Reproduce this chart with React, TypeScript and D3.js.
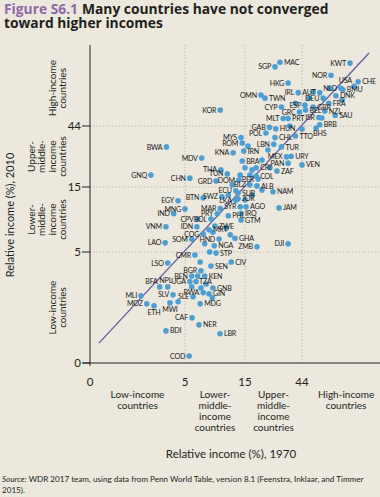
import React from "react";
import * as d3 from "d3";

// ---------- DATA ----------
const countryCodes = [
  "SGP","MAC","KWT","NOR","HKG","USA","CHE","NLD","BMU","AUT","IRL","DNK","DEU","OMN","TWN","FRA",
  "CYP","ESP","GBR","NZL","GRC","BEL","ISR","SAU","MLT","PRT","GAB","HUN","BRB","BHS","POL","CHL",
  "TTO","LBN","TUR","URY","MEX","PAN","VEN","IRN","BRA","MYS","ROM","KNA","MDV","BWA","KOR","THA",
  "TUN","DOM","GRD","CHN","GNQ","ECU","BTN","SWZ","LKA","JOR","SUR","BLZ","PER","CRI","COL","ZAF",
  "ALB","NAM","AGO","JAM","MAR","SYR","PHL","IRQ","GTM","PRY","BOL","CPV","EGY","MNG","IND","IDN",
  "VNM","COG","SOM","LAO","CMR","HND","GHA","ZWE","MRT","NGA","ZMB","DJI","STP","SEN","CIV","BGR",
  "BEN","KEN","UGA","NPL","BFA","MLI","SLV","TZA","GNB","GIN","RWA","SLE","MDG","MOZ","ETH","MWI",
  "CAF","BDI","NER","LBR","COD","LSO"
];
const income1970 = [
  26.6,29.2,106,75,34,114,123,90,93,61,41,82,65,20.4,22,72,
  30,46.5,54,67,42,47,60,81,31,34,24,27,61,57,22.4,26.6,
  39,26,30,36,33,34,44,14.7,14.3,14,14.3,12.2,6.9,3.3,9.7,9.8,
  11,13.5,9,5.5,2.24,12.8,7.1,10,12.8,13.3,13.3,16.5,19.3,18.6,18.6,27.6,
  18.9,25.6,15.3,28.7,9.7,13.8,11.2,14,14,9.2,8.2,6.4,4.3,5,3.9,6.3,
  3.26,7.1,5.7,3.2,6.07,9.5,12.6,8.8,7.9,8.7,18.9,34,9,8.2,11.8,6.8,
  5.7,7.3,5.5,3.4,2.8,1.7,3.84,6.8,8.5,7.9,7.1,5.85,6.7,2.0,2.43,3.58,
  5.74,3.26,6.56,9.66,5.42,3.4
];
const income2010 = [
  121,131,129,105,92,87,94,84,82,78,78,74,71,75,71,65,
  61,63,61,57,56,58,51,53,50,50,43,42,45,42.5,39,36,
  37,32,30.6,26,25.7,23,22.3,28.5,23.9,36,32.8,27.6,25.2,30.6,58,20.4,
  19,17,16.7,17.6,18.6,14.1,12.6,12.8,12.1,12.4,13.6,15.6,17.3,21.2,18.3,20,
  15.3,13.9,10.9,10.7,10.6,10.9,9.4,9.8,8.75,9.7,8.9,8.9,12,10.5,9.7,7.8,
  7.8,6.9,6.3,5.9,4.73,6.3,6.4,7.9,7.4,5.6,5.5,5.8,4.9,3.84,4.15,3.5,
  3.15,3.15,2.8,2.5,2.5,2.04,2.09,2.44,2.44,2.14,2.2,2.0,1.68,1.68,1.6,1.72,
  1.14,0.73,0.91,0.65,0.13,4.07
];
const unlabeled1970 = [54,73.5,92,50,63.5,35,44,15.9,17.2,20.8,23.3,24.2,15,16.5,20.8,17.2,15,12,11.2,13.8,10.8,11.6,8.5,7.3,8,6.7,6.2,7.5,5.7,8.4,4.3,6.4,39];
const unlabeled2010 = [79,84,69,71,50.5,44,41.7,31,20.4,24.3,29,21.2,21.2,18.6,14.3,13.2,12.2,15.6,13.2,18.6,7.6,6.8,7.1,5.8,5,4.15,2.8,2.66,2.5,1.95,1.77,3.15,65];

const tickValues = [0, 5, 15, 44];
const tickLabels = ["0", "5", "15", "44"];
const parity1970 = [0.2, 150];
const parity2010 = [0.41, 153];

const xCategories = [
  { lines: ["Low-income", "countries"], lo: 0, hi: 5 },
  { lines: ["Lower-", "middle-", "income", "countries"], lo: 5, hi: 15 },
  { lines: ["Upper-", "middle-", "income", "countries"], lo: 15, hi: 44 },
  { lines: ["High-income", "countries"], lo: 44, hi: 220 },
];
const yCategories = [
  { lines: ["Low-income", "countries"], lo: 0, hi: 5 },
  { lines: ["Lower-", "middle-", "income", "countries"], lo: 5, hi: 15 },
  { lines: ["Upper-", "middle-", "income", "countries"], lo: 15, hi: 44 },
  { lines: ["High-income", "countries"], lo: 44, hi: 160 },
];

// label placement (l = left, r = right, t = above, b = below ...)
const labelSide: Record<string, string> = {
  MAC: "r", CHE: "r", BMU: "r", DNK: "r", TWN: "r", FRA: "r", GBR: "r", NZL: "r", BEL: "r",
  SAU: "r", PRT: "r", HUN: "r", BRB: "r", BHS: "br", CHL: "r", TTO: "r", TUR: "r", URY: "r",
  VEN: "r", IRN: "r", BRA: "r", CRI: "r", COL: "r", ZAF: "r", ALB: "r", NAM: "r", AGO: "r",
  JAM: "r", PHL: "r", IRQ: "r", GTM: "r", GHA: "r", ZWE: "r", MRT: "r", NGA: "r", STP: "r",
  SEN: "r", CIV: "r", KEN: "r", GNB: "r", GIN: "r", MDG: "r", BDI: "r", NER: "r", LBR: "r",
  JOR: "r", SUR: "r", USA: "tl", NPL: "t", BFA: "tl", TZA: "tr", ETH: "b", MWI: "b",
};

const FONT = "Lato, 'Open Sans', 'DejaVu Sans', sans-serif";
const TITLE_FONT = "'Open Sans', Lato, sans-serif";
const INK = "#231f20";
const BG = "#ece8dd";
const DOT = "#4d9fd3";
const GRID = "#b5b0a4";

export default function App() {
  const W = 380, H = 497;
  const sym = d3.scaleSymlog().constant(1.2).domain([0, 44]).range([0, Math.log1p(44 / 1.2)]);
  const xs = d3.scaleLinear().domain(tickValues.map((v) => sym(v))).range([90, 185, 245, 302]);
  const ys = d3.scaleLinear().domain(tickValues.map((v) => sym(v))).range([363, 252, 187, 126]);
  const X = (v: number) => xs(sym(v));
  const Y = (v: number) => ys(sym(v));

  const plotTop = 45, plotRight = W;
  const line = d3.line<number>().x((_, i) => X(parity1970[i])).y((_, i) => Y(parity2010[i]));

  const labelProps = (code: string, px: number, py: number) => {
    const s = labelSide[code] || "l";
    switch (s) {
      case "r": return { x: px + 4, y: py + 2.6, anchor: "start" };
      case "t": return { x: px - 2, y: py - 4, anchor: "middle" };
      case "tl": return { x: px - 2, y: py - 3, anchor: "end" };
      case "tr": return { x: px - 2, y: py - 4, anchor: "start" };
      case "b": return { x: px, y: py + 9, anchor: "middle" };
      case "br": return { x: px - 3, y: py + 7.5, anchor: "start" };
      default: return { x: px - 4, y: py + 2.6, anchor: "end" };
    }
  };

  return (
    <svg width={W} height={H} style={{ position: "fixed", left: 0, top: 0, display: "block" }} fontFamily={FONT}>
      <rect width={W} height={H} fill={BG} />
      {/* title */}
      <text x={4} y={14} fontSize={13.8} fontWeight={700} fill={INK} fontFamily={TITLE_FONT}>
        <tspan fill="#8f6aa8">Figure S6.1</tspan>
        <tspan dx={4}>Many countries have not converged</tspan>
      </text>
      <text x={4} y={27.5} fontSize={13.8} fontWeight={700} fill={INK} fontFamily={TITLE_FONT}>toward higher incomes</text>

      {/* grid */}
      {tickValues.slice(1).map((v) => (
        <g key={"g" + v}>
          <line x1={X(v)} x2={X(v)} y1={Y(0)} y2={plotTop} stroke={GRID} strokeDasharray="1.2,2" strokeWidth={0.9} />
          <line x1={X(0)} x2={plotRight} y1={Y(v)} y2={Y(v)} stroke={GRID} strokeDasharray="1.2,2" strokeWidth={0.9} />
        </g>
      ))}

      {/* axes */}
      <line x1={X(0)} x2={X(0)} y1={plotTop} y2={Y(0) + 3} stroke={INK} strokeWidth={1} />
      <line x1={X(0) - 7} x2={plotRight} y1={Y(0)} y2={Y(0)} stroke={INK} strokeWidth={1} />
      {tickValues.map((v, i) => (
        <g key={"yt" + v}>
          <line x1={X(0) - 8} x2={X(0)} y1={Y(v)} y2={Y(v)} stroke={INK} strokeWidth={1} />
          <text x={X(0) - 9} y={Y(v) + 4} fontSize={11.5} textAnchor="end" fill={INK}>{tickLabels[i]}</text>
          <text x={X(v)} y={386} fontSize={11.5} textAnchor="middle" fill={INK}>{tickLabels[i]}</text>
        </g>
      ))}

      {/* parity line */}
      <path d={line([0, 1]) || ""} stroke="#625ea3" strokeWidth={1.3} fill="none" />

      {/* unlabeled points */}
      {unlabeled1970.map((v, i) => (
        <circle key={"u" + i} cx={X(v)} cy={Y(unlabeled2010[i])} r={2.8} fill={DOT} />
      ))}
      {/* labeled points */}
      {countryCodes.map((c, i) => (
        <circle key={"p" + c} cx={X(income1970[i])} cy={Y(income2010[i])} r={2.8} fill={DOT} />
      ))}
      {countryCodes.map((c, i) => {
        const l = labelProps(c, X(income1970[i]), Y(income2010[i]));
        return (
          <text key={"l" + c} x={l.x} y={l.y} fontSize={7.1} textAnchor={l.anchor} fill="#1a1718" letterSpacing={-0.2}>{c}</text>
        );
      })}

      {/* x category labels */}
      {xCategories.map((cat, i) => {
        const cx = (X(cat.lo) + X(cat.hi)) / 2;
        return (
          <text key={"xc" + i} x={cx} y={398} fontSize={10} textAnchor="middle" fill={INK}>
            {cat.lines.map((t, j) => (
              <tspan key={j} x={cx} dy={j === 0 ? 0 : 11}>{t}</tspan>
            ))}
          </text>
        );
      })}
      {/* y category labels */}
      {yCategories.map((cat, i) => {
        const cy = (Y(cat.lo) + Y(cat.hi)) / 2;
        const n = cat.lines.length;
        return (
          <g key={"yc" + i}>
            {cat.lines.map((t, j) => {
              const bx = 66 - (n - 1 - j) * 10.5;
              return (
                <text key={j} transform={`translate(${bx},${cy}) rotate(-90)`} fontSize={10} textAnchor="middle" fill={INK}>{t}</text>
              );
            })}
          </g>
        );
      })}

      {/* axis titles */}
      <text transform={`translate(14,215) rotate(-90)`} fontSize={11} textAnchor="middle" fill={INK}>Relative income (%), 2010</text>
      <text x={231} y={458} fontSize={11.5} textAnchor="middle" fill={INK}>Relative income (%), 1970</text>

      {/* source */}
      <text x={2} y={482} fontSize={8.1} fill={INK}>
        <tspan fontStyle="italic">Source:</tspan>
        <tspan> WDR 2017 team, using data from Penn World Table, version 8.1 (Feenstra, Inklaar, and Timmer</tspan>
      </text>
      <text x={2} y={493} fontSize={8.1} fill={INK}>2015).</text>
    </svg>
  );
}
